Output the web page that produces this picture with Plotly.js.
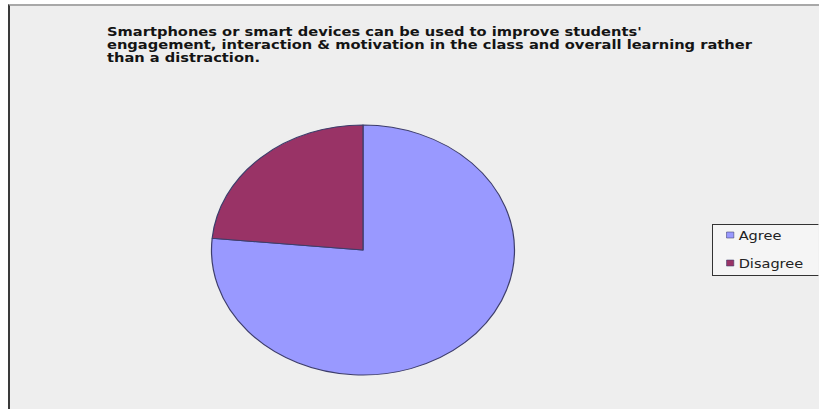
<!DOCTYPE html>
<html>
<head>
<meta charset="utf-8">
<script src="https://cdn.plot.ly/plotly-3.0.1.min.js"></script>
<style>
  html, body { margin: 0; padding: 0; background: #ffffff; overflow: hidden; }
  #frame { position: absolute; left: 8px; top: 4px; width: 811px; height: 403px;
           border-left: 2px solid #3a3a3a; border-top: 2px solid #a8a8a8; border-bottom: 2px solid #c4c4c4;
           background: #eeeeee; overflow: hidden; }
  #chart { transform-origin: 0 0; }
</style>
</head>
<body>
<div id="frame"><div id="chart"></div></div>
<script>
const titleLines = [
  "Smartphones or smart devices can be used to improve students'",
  "engagement, interaction & motivation in the class and overall learning rather",
  "than a distraction."
];
const categories = ["Agree", "Disagree"];
const values = [76.5, 23.5];
const colors = ["#9999FF", "#993366"];

// The reference image is stretched horizontally; draw unstretched and stretch.
const SX = 303 / 250;
const W = Math.round(809 / SX), H = 403;
document.getElementById("chart").style.transform = "scaleX(" + SX + ")";

const cx = 353 / SX, cy = 244, R = 125;
const trace = {
  type: "pie",
  labels: categories,
  values: values,
  sort: false,
  direction: "clockwise",
  rotation: 0,
  textinfo: "none",
  hoverinfo: "label+percent",
  marker: { colors: colors, line: { color: "#3d3d6b", width: 1 } },
  domain: { x: [(cx - R) / W, (cx + R) / W], y: [(H - cy - R) / H, (H - cy + R) / H] }
};
const titleX = 96 / SX;
const titleFont = { family: "DejaVu Sans, sans-serif", size: 12.1, color: "#141414", weight: "bold" };
const annotations = titleLines.map(function (line, i) {
  return {
    text: line, showarrow: false,
    xref: "paper", yref: "paper",
    x: titleX / W, xanchor: "left",
    y: 1 - (26 + i * 13) / H, yanchor: "middle",
    font: titleFont, borderpad: 0
  };
});
const layout = {
  width: W, height: H,
  margin: { l: 0, r: 0, t: 0, b: 0, autoexpand: false },
  paper_bgcolor: "#eeeeee",
  plot_bgcolor: "#eeeeee",
  annotations: annotations,
  showlegend: true,
  legend: {
    xref: "container", yref: "container",
    x: (702 / SX) / W, xanchor: "left",
    y: (H - 218) / H, yanchor: "top",
    bgcolor: "#f5f5f5", bordercolor: "#333333", borderwidth: 1,
    font: { family: "DejaVu Sans, sans-serif", size: 12, color: "#222222" },
    itemwidth: 30
  }
};
Plotly.newPlot("chart", [trace], layout, { displayModeBar: false, staticPlot: true }).then(function (gd) {
  // Legend: compact entries with wider pitch, as in the reference
  const items = gd.querySelectorAll(".legend .traces");
  items.forEach(function (g, i) {
    g.setAttribute("transform", "translate(1," + (11 + i * 28) + ")");
    const txt = g.querySelector("text.legendtext");
    if (txt) txt.setAttribute("x", 21);
    const pts = g.querySelector(".legendpoints");
    if (pts) {
      pts.querySelectorAll("path").forEach(function (p) {
        p.setAttribute("transform", "translate(14,0) scale(0.5)");
      });
    }
  });
  const bg = gd.querySelector(".legend rect.bg");
  if (bg) { bg.setAttribute("height", 51); bg.setAttribute("width", 92); }
});
</script>
</body>
</html>
